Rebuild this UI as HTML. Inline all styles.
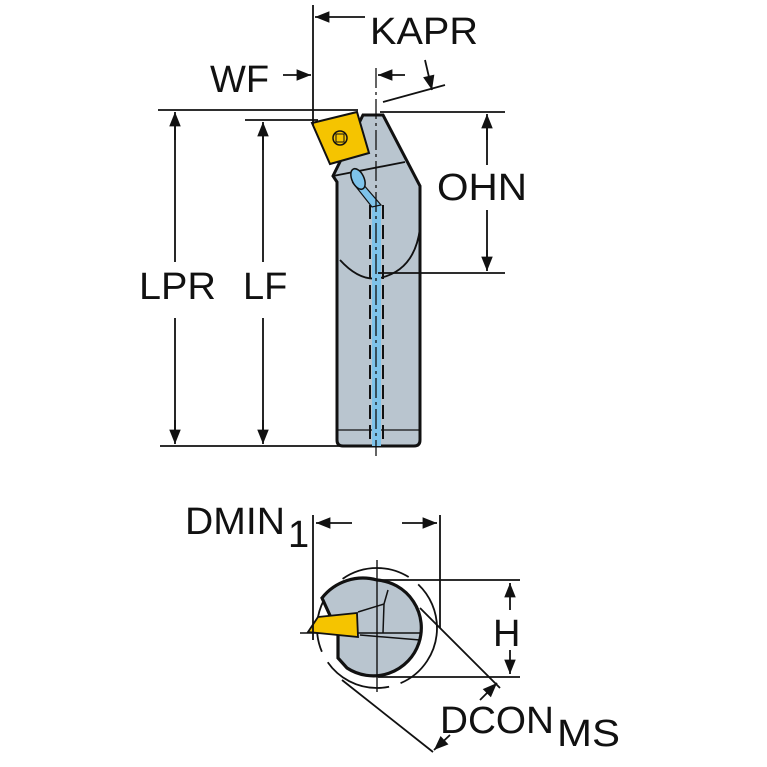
<!DOCTYPE html>
<html><head><style>body{margin:0;background:#fff}svg{display:block}text{font-family:"Liberation Sans",sans-serif;fill:#111}</style></head><body>
<svg width="767" height="767" viewBox="0 0 767 767" xmlns="http://www.w3.org/2000/svg">
<defs><marker id="a" viewBox="0 0 10 10" refX="10" refY="5" markerWidth="10" markerHeight="8" orient="auto-start-reverse"><path d="M0,1 L10,5 L0,9z" fill="#111"/></marker></defs>
<g stroke="#111" stroke-width="1.8" fill="none">
<path d="M337,182 L337,440 Q337,446 343,446 L414,446 Q420,446 420,440 L420,186 L383,115 L363,115 L333,176 Z" fill="#b9c5cf" stroke-width="3"/>
<path d="M337,430 L420,430" stroke-width="1.2"/>
<path d="M333,176 L405,162" stroke-width="1.8"/>
<path d="M340,260 Q360,282 380,278 Q415,270 420,228" stroke-width="1.8"/>
<path d="M372,205 L372,446 L381,446 L381,205 Z" fill="#7ec3ea" stroke="none"/>
<path d="M353,183 L372,207 L381,205 L362,183 Z" fill="#7ec3ea" stroke="#111" stroke-width="1.2"/>
<ellipse cx="358" cy="179" rx="6" ry="11" transform="rotate(-25 358 179)" fill="#7ec3ea" stroke-width="1.5"/>
<path d="M370,205 L370,446 M383,205 L383,446" stroke-dasharray="14,6" stroke-width="2"/>
<path d="M312,123 L357,112 L369,153 L330,164 Z" fill="#f5c400" stroke-width="2"/>
<circle cx="340" cy="138" r="7" stroke-width="1.5"/><rect x="336" y="134" width="8" height="8" stroke-width="1"/>
<path d="M376,68 L376,456" stroke-dasharray="20,4,3,4" stroke-width="1.3"/>
<path d="M158,110 L358,110 M245,120 L318,120 M160,446 L340,446 M380,112 L505,112 M378,273 L505,273"/>
<path d="M313,5 L313,125"/>
<path d="M175,115 L175,262 M175,318 L175,440 M263,125 L263,262 M263,318 L263,440 M487,117 L487,165 M487,210 L487,268"/>
<path d="M175,140 L175,112" marker-end="url(#a)"/><path d="M175,420 L175,444" marker-end="url(#a)"/>
<path d="M263,150 L263,122" marker-end="url(#a)"/><path d="M263,420 L263,444" marker-end="url(#a)"/>
<path d="M487,140 L487,114" marker-end="url(#a)"/><path d="M487,250 L487,271" marker-end="url(#a)"/>
<path d="M283,75 L311,75" marker-end="url(#a)"/>
<path d="M405,75 L378,75" marker-end="url(#a)"/>
<path d="M365,17 L315,17" marker-end="url(#a)"/>
<path d="M383,102 L445,85"/><path d="M425,60 L432,90" marker-end="url(#a)"/>
<circle cx="377" cy="628" r="60" stroke-dasharray="70,12" stroke-width="1.8"/>
<path d="M377,580 A48,48 0 1 1 347,668 L338,658 L338,625 L333,622 L322,598 A52,52 0 0 1 377,580 Z" fill="#b9c5cf" stroke-width="3.2"/>
<path d="M300,633 L420,633" stroke-width="1.4"/>
<path d="M377,560 L377,692" stroke-width="1.4"/>
<path d="M358,612 L384,604 L383,633 M384,604 L388,590" stroke-width="1.5"/>
<path d="M360,635 L420,640" stroke-width="1.5"/>
<path d="M318,617 L357,613 L358,637 L308,632 Z" fill="#f5c400" stroke-width="1.8"/>
<path d="M313,515 L313,640 M440,515 L440,628"/>
<path d="M352,523 L316,523" marker-end="url(#a)"/><path d="M402,523 L437,523" marker-end="url(#a)"/>
<path d="M378,580 L520,580 M378,677 L520,677"/>
<path d="M510,610 L510,583" marker-end="url(#a)"/><path d="M510,650 L510,674" marker-end="url(#a)"/>
<path d="M420,608 L500,688 M342,680 L433,752"/>
<path d="M480,700 L497,683" marker-end="url(#a)"/><path d="M450,735 L434,750" marker-end="url(#a)"/>
</g>
<g font-size="38">
<text x="370" y="44" textLength="108" lengthAdjust="spacingAndGlyphs">KAPR</text>
<text x="210" y="92">WF</text>
<text x="437" y="200" textLength="90" lengthAdjust="spacingAndGlyphs">OHN</text>
<text x="139" y="299" textLength="77" lengthAdjust="spacingAndGlyphs">LPR</text>
<text x="243" y="299">LF</text>
<text x="185" y="534" textLength="100" lengthAdjust="spacingAndGlyphs">DMIN</text><text x="288" y="547">1</text>
<text x="493" y="646">H</text>
<text x="440" y="733" textLength="114" lengthAdjust="spacingAndGlyphs">DCON</text><text x="557" y="746" textLength="63" lengthAdjust="spacingAndGlyphs">MS</text>
</g>
</svg>
</body></html>
